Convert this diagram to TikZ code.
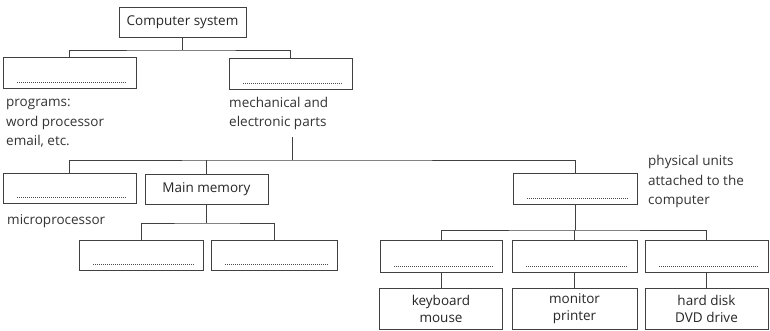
\documentclass[tikz,border=0pt]{standalone}
\usepackage{fontspec}
\setmainfont{Open Sans}
\begin{document}
\begin{tikzpicture}[x=1pt,y=-1pt,
	box/.style={draw=black!75,line width=1pt,minimum width=123pt,minimum height=31pt,inner sep=0pt,text=black!85,font=\fontsize{13.5}{17}\selectfont,align=center},
	blank/.style={box,path picture={\draw[black!70,dash pattern=on 1pt off 1pt,line width=.9pt]([xshift=14pt,yshift=6pt]path picture bounding box.south west)--([xshift=-9pt,yshift=6pt]path picture bounding box.south east);}},
	note/.style={anchor=base west,inner sep=0pt,align=left,text=black!80,font=\fontsize{13.5}{19.5}\selectfont},
	link/.style={draw=black!75,line width=.9pt}]
	\useasboundingbox (0,0) rectangle (770,330);

	\node[box,minimum width=127pt,minimum height=30pt] (cs) at (182.5,22) {Computer system};

	\node[blank,minimum width=133pt] (sw) at (69.5,72.5) {};
	\node[blank] (hw) at (290.5,73.5) {};
	\node[note] (swnote) at (6,145.5) {programs:\\word processor\\email, etc.};
	\node[note] (hwnote) at (229,126.5) {mechanical and\\electronic parts};

	\node[blank,minimum width=133pt,minimum height=30pt] (micro) at (69.5,188) {};
	\node[box,minimum height=30pt] (mem) at (206.5,189) {Main memory};
	\node[blank,minimum width=124pt] (periph) at (575,188.5) {};
	\node[note] (micronote) at (7,224) {microprocessor};
	\node[note] (periphnote) at (648,204.5) {physical units\\attached to the\\computer};

	\node[blank,minimum width=124pt,minimum height=30pt] (ram) at (141,255) {};
	\node[blank,minimum width=126pt,minimum height=30pt] (rom) at (274,255) {};

	\node[blank,minimum width=122pt,minimum height=32pt] (inp) at (441,256) {};
	\node[blank,minimum width=125pt,minimum height=32pt] (outp) at (574.5,256) {};
	\node[blank,minimum height=32pt] (stor) at (706.5,256) {};

	\node[box,minimum height=41pt] (kb) at (441,308.5) {keyboard\\mouse};
	\node[box,minimum width=125pt,minimum height=41pt] (mon) at (574.5,308.5) {monitor\\printer};
	\node[box,minimum height=41pt] (hd) at (706.5,308.5) {hard disk\\DVD drive};

	\coordinate (csjoin) at (182.5,50);
	\coordinate (hwtop) at (292,137);
	\coordinate (hwjoin) at (292,160);
	\coordinate (memjoin) at (206.5,223);
	\coordinate (perjoin) at (575,230);

	\draw[link] (cs) -- (csjoin);
	\draw[link] (sw.north) |- (csjoin) -| (hw.north);

	\draw[link] (hwtop) -- (hwjoin);
	\draw[link] (micro.north) |- (hwjoin) -| (periph.north);
	\draw[link] (mem.north) -- (mem.north |- hwjoin);

	\draw[link] (mem) -- (memjoin);
	\draw[link] (ram.north) |- (memjoin) -| (rom.north);

	\draw[link] (periph) -- (perjoin);
	\draw[link] (inp.north) |- (perjoin) -| (stor.north);
	\draw[link] (outp.north) -- (outp.north |- perjoin);

	\draw[link] (inp) -- (kb);
	\draw[link] (outp) -- (mon);
	\draw[link] (stor) -- (hd);
\end{tikzpicture}
\end{document}
